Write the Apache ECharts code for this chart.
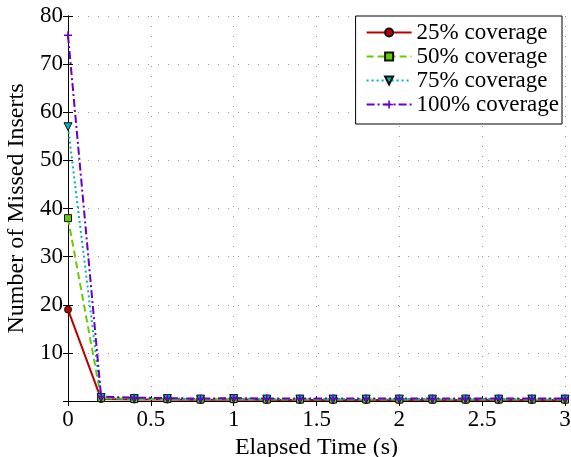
<!DOCTYPE html>
<html>
<head>
<meta charset="utf-8">
<script src="https://cdn.jsdelivr.net/npm/echarts@6/dist/echarts.min.js"></script>
<style>html,body{margin:0;padding:0;background:#fff}#c{width:571px;height:457px}</style>
</head>
<body>
<div id="c"></div>
<script>
const times = [0, 0.2, 0.4, 0.6, 0.8, 1.0, 1.2, 1.4, 1.6, 1.8, 2.0, 2.2, 2.4, 2.6, 2.8, 3.0];
const cov25 = [19, 0.4, 0.3, 0.3, 0.2, 0.3, 0.2, 0.2, 0.2, 0.2, 0.2, 0.2, 0.2, 0.2, 0.2, 0.2];
const cov50 = [38, 0.6, 0.4, 0.4, 0.3, 0.4, 0.3, 0.3, 0.3, 0.3, 0.3, 0.3, 0.3, 0.3, 0.3, 0.3];
const cov75 = [57, 0.7, 0.5, 0.5, 0.4, 0.5, 0.4, 0.4, 0.4, 0.4, 0.4, 0.4, 0.4, 0.4, 0.4, 0.4];
const cov100 = [76, 0.9, 0.7, 0.6, 0.5, 0.6, 0.5, 0.5, 0.5, 0.5, 0.5, 0.5, 0.5, 0.5, 0.5, 0.5];
const seriesNames = ['25% coverage', '50% coverage', '75% coverage', '100% coverage'];
const xTicks = [0, 0.5, 1, 1.5, 2, 2.5, 3];
const yTicks = [10, 20, 30, 40, 50, 60, 70, 80];

const FONT = '"Liberation Serif", "DejaVu Serif", serif';
const chart = echarts.init(document.getElementById('c'), null, {renderer: 'canvas'});
const pairs = arr => times.map((t, i) => [t, arr[i]]);
const plusPath = 'path://M4,0H6V4H10V6H6V10H4V6H0V4H4Z';

function mk(name, data, color, dash, symbol, size, rotate) {
  return {
    name: name, type: 'line', data: pairs(data),
    xAxisIndex: 0, yAxisIndex: 0,
    symbol: symbol, symbolSize: size, symbolRotate: rotate || 0,
    showAllSymbol: true,
    lineStyle: {color: color, width: 2, type: dash},
    itemStyle: {color: color, borderColor: symbol === plusPath ? color : '#111', borderWidth: symbol === plusPath ? 0 : 1},
    emphasis: {disabled: true},
    z: 3
  };
}

const axisCommon = {
  type: 'value', min: 0,
  axisLine: {show: true, lineStyle: {color: '#000', width: 1}},
  axisTick: {show: true, inside: true, length: 5, lineStyle: {color: '#000'}},
  axisLabel: {fontFamily: FONT, fontSize: 23, color: '#000'}
};

chart.setOption({
  animation: false,
  backgroundColor: '#fff',
  grid: {left: 68, right: 6, top: 16, bottom: 56, containLabel: false, outerBoundsMode: 'none'},
  legend: {
    orient: 'vertical', right: 9, top: 16,
    data: seriesNames,
    backgroundColor: '#fff', borderColor: '#000', borderWidth: 1, borderRadius: 0,
    padding: [5, 3, 8, 10], itemGap: 1, itemWidth: 45, itemHeight: 10,
    textStyle: {fontFamily: FONT, fontSize: 23, color: '#000', lineHeight: 21},
    z: 10
  },
  xAxis: [
    Object.assign({}, axisCommon, {
      position: 'bottom', max: 3, interval: 0.5,
      name: 'Elapsed Time (s)', nameLocation: 'middle', nameGap: 25,
      nameTextStyle: {fontFamily: FONT, fontSize: 24, color: '#000'},
      axisLabel: Object.assign({}, axisCommon.axisLabel, {margin: 7,
        formatter: v => xTicks.indexOf(v) >= 0 ? String(v) : ''}),
      splitLine: {show: true, lineStyle: {color: '#9a9a9a', width: 1, type: [1, 9]}}
    }),
    Object.assign({}, axisCommon, {
      position: 'top', max: 3, interval: 0.5,
      axisLabel: {show: false}, splitLine: {show: false}
    })
  ],
  yAxis: [
    Object.assign({}, axisCommon, {
      position: 'left', max: 80, interval: 10,
      name: 'Number of Missed Inserts', nameLocation: 'middle', nameGap: 33,
      nameTextStyle: {fontFamily: FONT, fontSize: 24, color: '#000'},
      axisLabel: Object.assign({}, axisCommon.axisLabel, {margin: 5,
        formatter: v => yTicks.indexOf(v) >= 0 ? String(v) : ''}),
      splitLine: {show: true, lineStyle: {color: '#9a9a9a', width: 1, type: [1, 9]}}
    }),
    Object.assign({}, axisCommon, {
      position: 'right', max: 80, interval: 10,
      axisLabel: {show: false}, splitLine: {show: false}
    })
  ],
  series: [
    mk(seriesNames[0], cov25, '#bb0000', 'solid', 'circle', 7),
    mk(seriesNames[1], cov50, '#66cc00', [7, 4], 'rect', 7),
    mk(seriesNames[2], cov75, '#00b5b5', [2, 3], 'triangle', 8, 180),
    mk(seriesNames[3], cov100, '#6600cc', [8, 3, 2, 3], plusPath, 8)
  ]
});
</script>
</body>
</html>
